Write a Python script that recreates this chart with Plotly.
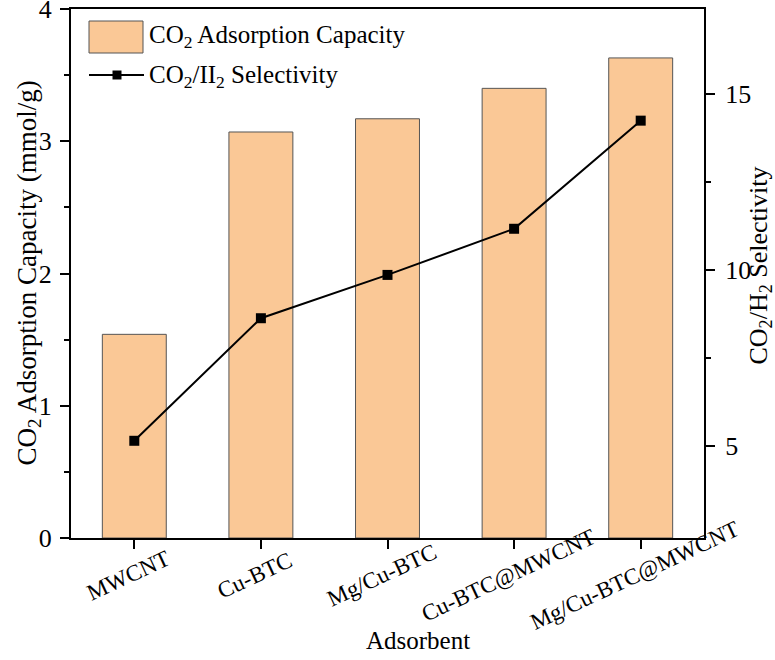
import plotly.graph_objects as go

categories = ["MWCNT", "Cu-BTC", "Mg/Cu-BTC", "Cu-BTC@MWCNT", "Mg/Cu-BTC@MWCNT"]
capacity = [1.54, 3.07, 3.17, 3.40, 3.63]
selectivity = [5.14, 8.62, 9.85, 11.16, 14.23]
left_ticks = [0, 1, 2, 3, 4]
right_ticks = [5, 10, 15]

FONT = "Liberation Serif"
BAR_COLOR = "#FAC896"

fig = go.Figure()
fig.add_trace(go.Bar(
    x=list(range(len(categories))), y=capacity, width=0.505,
    marker=dict(color=BAR_COLOR, line=dict(color="#555555", width=1)),
    name="CO<sub>2</sub> Adsorption Capacity", showlegend=False,
))
fig.add_trace(go.Scatter(
    x=list(range(len(categories))), y=selectivity, yaxis="y2",
    mode="lines+markers", line=dict(color="black", width=2),
    marker=dict(symbol="square", size=10, color="black"),
    name="CO<sub>2</sub>/II<sub>2</sub> Selectivity", showlegend=False,
))

axis_common = dict(showline=True, linecolor="black", linewidth=2, ticks="outside",
                   tickcolor="black", tickwidth=1.5, showgrid=False, zeroline=False,
                   tickfont=dict(family=FONT, size=26, color="black"))

TOP = 9
fig.update_layout(
    width=775, height=660,
    margin=dict(l=71, r=71, t=TOP, b=122, autoexpand=False),
    plot_bgcolor="white", paper_bgcolor="white",
    font=dict(family=FONT, size=25, color="black"),
    xaxis=dict(axis_common, range=[-0.5, 4.5], tickvals=list(range(len(categories))),
               showticklabels=False, ticklen=9, mirror=True),
    yaxis=dict(axis_common, range=[0, 4], tickvals=left_ticks, ticklen=9,
               ticklabelstandoff=3, ticklabeloverflow="allow",
               minor=dict(tickvals=[0.5, 1.5, 2.5, 3.5], ticks="outside", ticklen=5,
                          tickcolor="black", tickwidth=1.5)),
    yaxis2=dict(axis_common, range=[2.38, 17.4], tickvals=right_ticks, ticklen=9,
                ticklabelstandoff=5, ticklabeloverflow="allow",
                overlaying="y", side="right",
                minor=dict(tickvals=[7.5, 12.5], ticks="outside", ticklen=5,
                           tickcolor="black", tickwidth=1.5)),
)

annotations = []
for i, c in enumerate(categories):
    annotations.append(dict(x=i, y=0, xref="x", yref="y", text=c, showarrow=False,
                            textangle=-25, xanchor="center", yanchor="middle",
                            xshift=-6, yshift=-37,
                            font=dict(family=FONT, size=23, color="black")))
annotations.append(dict(x=0.5, y=0, xref="paper", yref="paper", text="Adsorbent",
                        showarrow=False, xanchor="center", yanchor="middle",
                        xshift=30, yshift=-102, font=dict(family=FONT, size=25)))
annotations.append(dict(x=0, y=0.5, xref="paper", yref="paper",
                        text="CO<sub>2</sub> Adsorption Capacity (mmol/g)",
                        showarrow=False, textangle=-90, xanchor="center", yanchor="middle",
                        xshift=-43, yshift=0, font=dict(family=FONT, size=27)))
annotations.append(dict(x=1, y=0.5, xref="paper", yref="paper",
                        text="CO<sub>2</sub>/H<sub>2</sub> Selectivity",
                        showarrow=False, textangle=-90, xanchor="center", yanchor="middle",
                        xshift=55, yshift=8, font=dict(family=FONT, size=26)))

# custom legend (screen pixel helpers relative to the plot area 71..704 x TOP..538)
def px(xp):
    return (xp - 71) / 633.0

def py(yp):
    return (538 - yp) / (538.0 - TOP)

shapes = [
    dict(type="rect", xref="paper", yref="paper", x0=px(89), x1=px(143), y0=py(53), y1=py(21),
         fillcolor=BAR_COLOR, line=dict(color="#555555", width=1)),
    dict(type="line", xref="paper", yref="paper", x0=px(89), x1=px(144), y0=py(75), y1=py(75),
         line=dict(color="black", width=2)),
    dict(type="rect", xref="paper", yref="paper", x0=px(112.5), x1=px(121.5), y0=py(79.5), y1=py(70.5),
         fillcolor="black", line=dict(color="black", width=0)),
]
annotations.append(dict(x=px(147), y=py(37), xref="paper", yref="paper",
                        text="CO<sub>2</sub> Adsorption Capacity", showarrow=False,
                        xanchor="left", yanchor="middle", font=dict(family=FONT, size=25)))
annotations.append(dict(x=px(147), y=py(76), xref="paper", yref="paper",
                        text="CO<sub>2</sub>/II<sub>2</sub> Selectivity", showarrow=False,
                        xanchor="left", yanchor="middle", font=dict(family=FONT, size=25)))

fig.update_layout(annotations=annotations, shapes=shapes)
fig.write_html("out.html", config={"displayModeBar": False},
               post_script="document.body.style.margin='0';document.body.style.overflow='hidden';")
